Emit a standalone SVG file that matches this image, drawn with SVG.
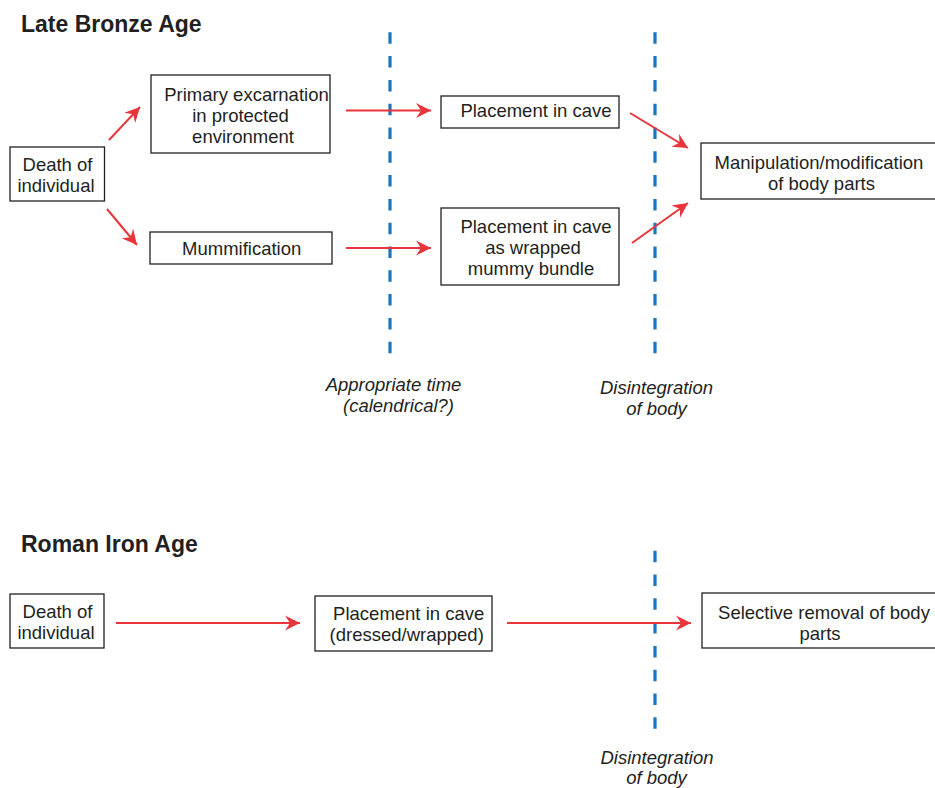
<svg xmlns="http://www.w3.org/2000/svg" width="935" height="788" viewBox="0 0 935 788">
  <style>
    .bg { fill: #ffffff; }
    .box { fill: #ffffff; stroke: #231f20; stroke-width: 1.3; }
    .txt { font-family: "Liberation Sans", Arial, sans-serif; font-size: 18.5px; fill: #231f20; text-anchor: middle; }
    .lbl { font-family: "Liberation Sans", Arial, sans-serif; font-size: 18.5px; font-style: italic; fill: #231f20; text-anchor: middle; }
    .title { font-family: "Liberation Sans", Arial, sans-serif; font-size: 23px; font-weight: bold; fill: #231f20; }
    .divider { stroke: #1a75bc; stroke-width: 3.2; stroke-dasharray: 11.5 12.3; fill: none; }
    .arrow { stroke: #e8353b; stroke-width: 2; fill: none; marker-end: url(#head); }
  </style>
  <defs>
    <marker id="head" markerUnits="userSpaceOnUse" markerWidth="16" markerHeight="16" viewBox="0 -8 16 16" refX="15" refY="0" orient="auto">
      <path d="M15,0 L0,-7.5 L5,0 L0,7.5 Z" fill="#e8353b"/>
    </marker>
  </defs>

  <rect class="bg" x="0" y="0" width="935" height="788"/>

  <!-- section headings -->
  <text class="title" x="21" y="32">Late Bronze Age</text>
  <text class="title" x="21" y="552">Roman Iron Age</text>

  <!-- timeline dividers -->
  <g id="dividers">
    <line class="divider" x1="390" y1="32.3" x2="390" y2="354"/>
    <line class="divider" x1="655" y1="32.3" x2="655" y2="354"/>
    <line class="divider" x1="655" y1="550.7" x2="655" y2="730"/>
  </g>

  <!-- divider labels -->
  <g id="label-time">
    <text class="lbl" x="393.5" y="391">Appropriate time</text>
    <text class="lbl" x="398.5" y="412">(calendrical?)</text>
  </g>
  <g id="label-disintegration-top">
    <text class="lbl" x="656.5" y="394">Disintegration</text>
    <text class="lbl" x="656.5" y="415">of body</text>
  </g>
  <g id="label-disintegration-bottom">
    <text class="lbl" x="657" y="764">Disintegration</text>
    <text class="lbl" x="656.5" y="784">of body</text>
  </g>

  <!-- Late Bronze Age nodes -->
  <g id="lba-death">
    <rect class="box" x="10" y="147" width="94.5" height="54"/>
    <text class="txt" x="57.5" y="171">Death of</text>
    <text class="txt" x="56" y="192">individual</text>
  </g>
  <g id="lba-excarnation">
    <rect class="box" x="151" y="75" width="179" height="78"/>
    <text class="txt" x="246.5" y="101">Primary excarnation</text>
    <text class="txt" x="240.5" y="122">in protected</text>
    <text class="txt" x="243" y="143">environment</text>
  </g>
  <g id="lba-mummification">
    <rect class="box" x="150" y="232" width="182" height="32"/>
    <text class="txt" x="241.7" y="255">Mummification</text>
  </g>
  <g id="lba-cave">
    <rect class="box" x="441" y="96" width="178" height="32"/>
    <text class="txt" x="536" y="117">Placement in cave</text>
  </g>
  <g id="lba-cave-bundle">
    <rect class="box" x="441" y="208" width="178" height="77"/>
    <text class="txt" x="536" y="232.5">Placement in cave</text>
    <text class="txt" x="533" y="253.5">as wrapped</text>
    <text class="txt" x="531" y="274.5">mummy bundle</text>
  </g>
  <g id="lba-manipulation">
    <rect class="box" x="701" y="143" width="240" height="56"/>
    <text class="txt" x="819" y="169">Manipulation/modification</text>
    <text class="txt" x="821.5" y="190">of body parts</text>
  </g>

  <!-- Roman Iron Age nodes -->
  <g id="ria-death">
    <rect class="box" x="10" y="594" width="94" height="54"/>
    <text class="txt" x="57.5" y="617.5">Death of</text>
    <text class="txt" x="56" y="638.5">individual</text>
  </g>
  <g id="ria-cave">
    <rect class="box" x="315" y="596" width="177" height="55"/>
    <text class="txt" x="408.7" y="619.5">Placement in cave</text>
    <text class="txt" x="406.7" y="640.5">(dressed/wrapped)</text>
  </g>
  <g id="ria-removal">
    <rect class="box" x="702" y="593" width="240" height="55"/>
    <text class="txt" x="824" y="618.5">Selective removal of body</text>
    <text class="txt" x="820" y="639.5">parts</text>
  </g>

  <!-- connectors -->
  <g id="connectors">
    <path class="arrow" d="M109,140 L140,107"/>
    <path class="arrow" d="M107,209 L137,245"/>
    <path class="arrow" d="M346,110.5 L431,110.5"/>
    <path class="arrow" d="M346,248 L431,248"/>
    <path class="arrow" d="M630,113 L688,148"/>
    <path class="arrow" d="M632,243 L688,203"/>
    <path class="arrow" d="M116,623 L300,623"/>
    <path class="arrow" d="M507,623 L691,623"/>
  </g>
</svg>
